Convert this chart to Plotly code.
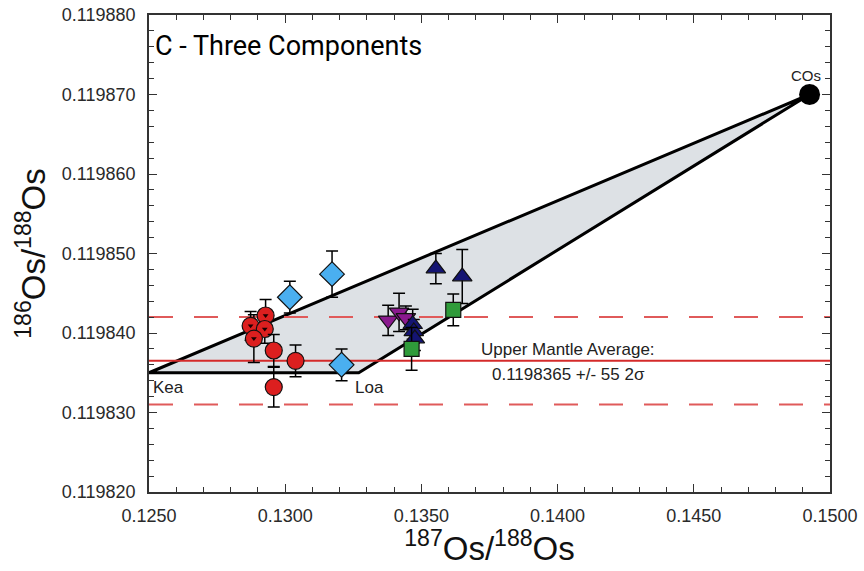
import plotly.graph_objects as go

# --- end-member compositions (187Os/188Os, 186Os/188Os) ---
endmember_names = ["Kea", "Loa", "COs"]
endmember_x = [0.1250, 0.1327, 0.14925]
endmember_y = [0.119835, 0.119835, 0.119870]

# --- upper mantle average and 2 sigma ---
um_avg = 0.1198365
um_2sig = 0.0000055

# --- sample groups: x, y, 2 sigma error on y ---
red_dot_x = [0.12928, 0.12873, 0.12925, 0.12885]
red_dot_y = [0.1198422, 0.1198409, 0.1198405, 0.1198393]
red_dot_e = [0.0000020, 0.0000018, 0.0000018, 0.0000030]

red_x = [0.12958, 0.13038, 0.12958]
red_y = [0.1198378, 0.1198365, 0.1198332]
red_e = [0.0000020, 0.0000020, 0.0000025]

blue_x = [0.13017, 0.13172, 0.13207]
blue_y = [0.1198445, 0.1198474, 0.1198360]
blue_e = [0.0000020, 0.0000029, 0.0000020]

purple_x = [0.13378, 0.13418, 0.13443]
purple_y = [0.1198416, 0.1198426, 0.1198419]
purple_e = [0.0000019, 0.0000024, 0.0000015]

navy_x = [0.13553, 0.13650, 0.13468, 0.13472, 0.13476]
navy_y = [0.1198481, 0.1198471, 0.1198411, 0.1198402, 0.1198393]
navy_e = [0.0000019, 0.0000034, 0.0000019, 0.0000015, 0.0000015]

green_x = [0.13617, 0.13464]
green_y = [0.1198429, 0.1198380]
green_e = [0.0000020, 0.0000027]

x_range = [0.1250, 0.1500]
y_range = [0.119820, 0.119880]

SANS = "Arial, Liberation Sans, sans-serif"

fig = go.Figure()

# three-component mixing field
fig.add_trace(go.Scatter(
    x=endmember_x + [endmember_x[0]], y=endmember_y + [endmember_y[0]],
    mode="lines", fill="toself", fillcolor="#dde1e5",
    line=dict(color="black", width=3), hoverinfo="skip"))

# upper mantle average with 2 sigma envelope
fig.add_trace(go.Scatter(x=x_range, y=[um_avg, um_avg], mode="lines",
                         line=dict(color="#d42a2a", width=2)))
for yy in (um_avg + um_2sig, um_avg - um_2sig):
    fig.add_trace(go.Scatter(x=x_range, y=[yy, yy], mode="lines",
                             line=dict(color="#e05a5a", width=2, dash="24px,21px")))

def err(vals):
    return dict(type="data", array=vals, visible=True, color="black",
                thickness=1.5, width=6)

def add_group(x, y, e, symbol, color, size):
    fig.add_trace(go.Scatter(
        x=x, y=y, mode="markers", error_y=err(e),
        marker=dict(symbol=symbol, color=color, size=size,
                    line=dict(color="#111111", width=1.2))))

add_group(red_dot_x, red_dot_y, red_dot_e, "circle", "#dc1f1f", 17)
fig.add_trace(go.Scatter(x=red_dot_x, y=red_dot_y, mode="markers",
                         marker=dict(symbol="triangle-down", color="#1a0000", size=5)))
add_group(red_x, red_y, red_e, "circle", "#dc1f1f", 17)
add_group(blue_x, blue_y, blue_e, "diamond", "#4aaff0", 19)
add_group(purple_x, purple_y, purple_e, "triangle-down", "#8a1a8e", 17)
add_group(navy_x, navy_y, navy_e, "triangle-up", "#141472", 17)
add_group(green_x, green_y, green_e, "square", "#2f9b3a", 15)

# COs end-member
fig.add_trace(go.Scatter(x=[endmember_x[2]], y=[endmember_y[2]], mode="markers",
                         marker=dict(symbol="circle", color="black", size=21)))

label_font = dict(family=SANS, size=17, color="#222222")
fig.add_annotation(x=endmember_x[0], y=endmember_y[0], text="Kea", showarrow=False,
                   xanchor="left", yanchor="top", xshift=2, yshift=-3, font=label_font)
fig.add_annotation(x=endmember_x[1], y=endmember_y[1], text="Loa", showarrow=False,
                   xanchor="left", yanchor="top", xshift=-6, yshift=-3, font=label_font)
fig.add_annotation(x=endmember_x[2], y=endmember_y[2], text="COs", showarrow=False,
                   xanchor="center", yanchor="bottom", xshift=-4, yshift=9,
                   font=dict(family=SANS, size=15, color="#222222"))
fig.add_annotation(x=0.14039, y=um_avg, text="Upper Mantle Average:", showarrow=False,
                   yanchor="bottom", yshift=0, font=label_font)
fig.add_annotation(x=0.14039, y=um_avg, text="0.1198365 +/- 55 2σ", showarrow=False,
                   yanchor="top", yshift=-2, font=label_font)

# panel title in the upper-left corner of the frame
fig.add_annotation(x=0.0, y=1.0, xref="paper", yref="paper", xanchor="left", yanchor="top",
                   text="C - Three Components", showarrow=False, xshift=4, yshift=-13,
                   font=dict(family="Roboto, Arial, sans-serif", size=27, color="black"))

tick_font = dict(family=SANS, size=18, color="#2a2a2a")
axis_common = dict(showline=True, linecolor="#333333", linewidth=1.8, mirror="allticks",
                   ticks="inside", ticklen=8, tickwidth=1.3, tickcolor="#333333",
                   showgrid=False, zeroline=False, tickfont=tick_font)

fig.update_xaxes(range=x_range, dtick=0.005, tick0=0.125, tickformat=".4f",
                 minor=dict(ticks="inside", ticklen=5, dtick=0.001, tickcolor="#333333",
                            tickwidth=1.2, showgrid=False),
                 title=dict(text="<sup>187</sup>Os/<sup>188</sup>Os", standoff=10,
                            font=dict(family=SANS, size=33, color="#111111")),
                 ticklabelstandoff=6, **axis_common)
fig.update_yaxes(range=y_range, dtick=0.00001, tick0=0.11982, tickformat=".6f",
                 minor=dict(ticks="inside", ticklen=5, dtick=0.000002, tickcolor="#333333",
                            tickwidth=1.2, showgrid=False),
                 title=dict(text="<sup>186</sup>Os/<sup>188</sup>Os", standoff=6,
                            font=dict(family=SANS, size=33, color="#111111")),
                 ticklabelstandoff=8, **axis_common)

fig.update_layout(width=864, height=571, showlegend=False,
                  margin=dict(l=149, r=34, t=15, b=79, autoexpand=False),
                  paper_bgcolor="white", plot_bgcolor="white")

fig.write_html("out.html")
